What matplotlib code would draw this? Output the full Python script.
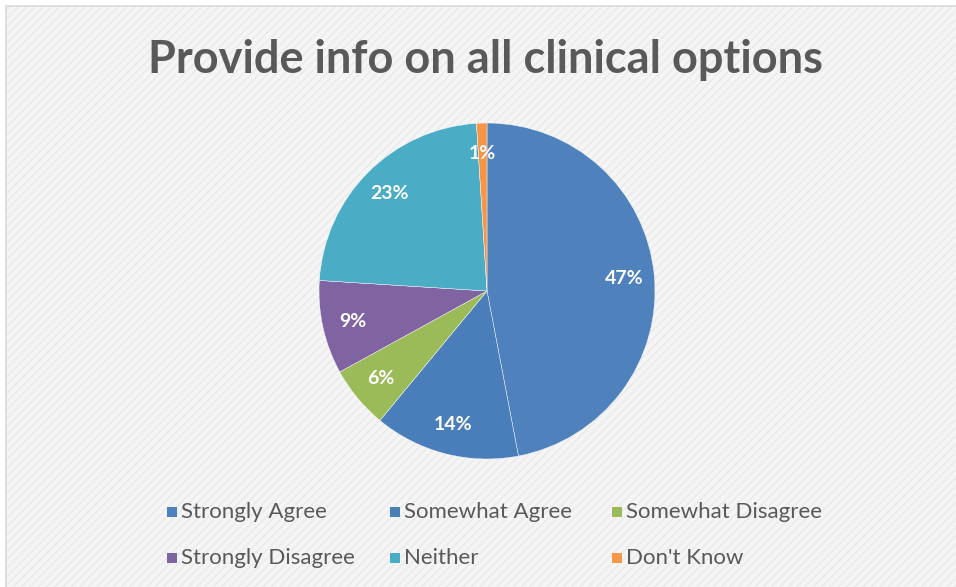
import matplotlib.pyplot as plt
from matplotlib.patches import Rectangle

# Survey answers
labels = ["Strongly Agree", "Somewhat Agree", "Somewhat Disagree",
          "Strongly Disagree", "Neither", "Don't Know"]
shares = [47, 14, 6, 9, 23, 1]
colors = ["#4F81BD", "#4A7EBB", "#9BBB59", "#8064A2", "#4BACC6", "#F79646"]

plt.rcParams["hatch.linewidth"] = 1.2
fig = plt.figure(figsize=(9.56, 5.87), dpi=100)

# chart area background with faint diagonal stripes
bg = Rectangle((6 / 956, 0), 1, 1 - 6 / 587, transform=fig.transFigure,
               facecolor="#f5f5f5", edgecolor="#ebebeb", hatch="////",
               linewidth=0, zorder=-2)
fig.patches.append(bg)
border = Rectangle((6 / 956, -0.01), 1, 1 - 6 / 587 + 0.01, transform=fig.transFigure,
                   facecolor="none", edgecolor="#d9d9d9", linewidth=1.2, zorder=-1)
fig.patches.append(border)

fig.text(0.508, 1 - 60 / 587, "Provide info on all clinical options",
         ha="center", va="center", fontsize=32.5, fontweight="bold",
         family="Lato", color="#595959")

cx, cy, r = 487, 291, 168
ax = fig.add_axes([(cx - r) / 956, 1 - (cy + r) / 587, 2 * r / 956, 2 * r / 587])
ax.set_zorder(2)
wedges, texts, autotexts = ax.pie(
    shares, colors=colors, startangle=90, counterclock=False,
    autopct="%d%%", pctdistance=0.82,
    wedgeprops=dict(edgecolor="white", linewidth=0.3),
    textprops=dict(color="white", fontsize=14, fontweight="bold", family="Lato"))
ax.set_xlim(-1, 1)
ax.set_ylim(-1, 1)
ax.set_aspect("equal")
ax.axis("off")

# legend laid out like the Excel one: 3 equal columns, 2 rows
col_x = [167, 390, 612]
row_y = [512, 558]
for i, (lab, c) in enumerate(zip(labels, colors)):
    x = col_x[i % 3]
    y = row_y[i // 3]
    fig.patches.append(Rectangle((x / 956, 1 - (y + 5) / 587), 10 / 956, 10 / 587,
                                 transform=fig.transFigure, facecolor=c,
                                 edgecolor="none", zorder=3))
    fig.text((x + 14) / 956, 1 - y / 587, lab, ha="left", va="center",
             fontsize=16, family="Lato", color="#595959")

fig.savefig("out.png", dpi=100)
